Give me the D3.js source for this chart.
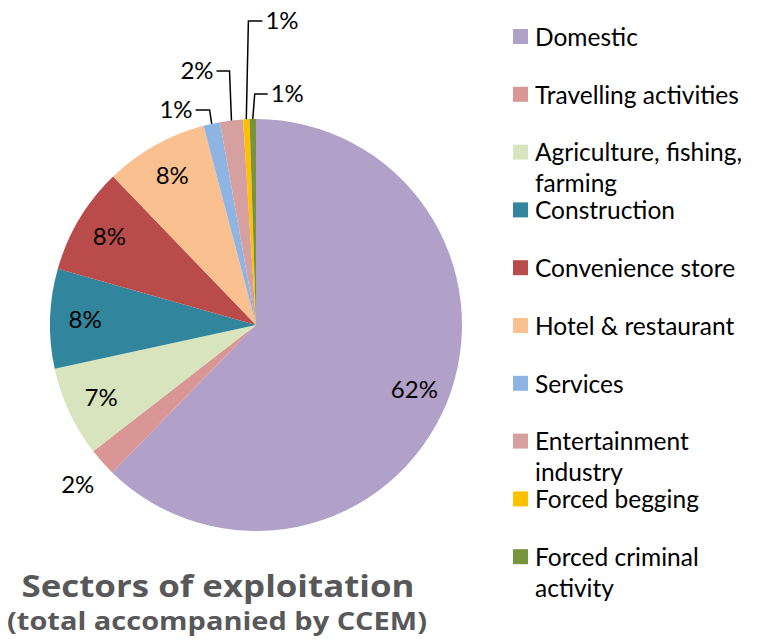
<!DOCTYPE html>
<html><head><meta charset="utf-8">
<script src="https://cdn.jsdelivr.net/npm/d3@7/dist/d3.min.js"></script>
<style>body{margin:0;background:#fff}svg{display:block}</style>
</head><body>
<script>
const categories = ["Domestic","Travelling activities","Agriculture, fishing, farming","Construction","Convenience store","Hotel & restaurant","Services","Entertainment industry","Forced begging","Forced criminal activity"];
const legendLines = [["Domestic"],["Travelling activities"],["Agriculture, fishing,","farming"],["Construction"],["Convenience store"],["Hotel & restaurant"],["Services"],["Entertainment","industry"],["Forced begging"],["Forced criminal","activity"]];
const values = [62.3, 2.2, 7.1, 7.8, 8.4, 8.1, 1.3, 1.8, 0.5, 0.5];
const colors = ["#b1a0c7","#d99694","#d7e4bd","#31859c","#b94c4a","#fac090","#8eb4e3","#d7a0a0","#ffc000","#77933c"];
// label placement kind: inner / outer / callout (rise above pie top, dx of horizontal arm)
const labelMode = ["inner","outer","inner","inner","inner","inner","callout","callout","callout","callout"];
const calloutRise = [0,0,0,0,0,0,9,48,98,25];
const calloutArm = [0,0,0,0,0,0,-14,-13,14,13];

const W=759,H=641;
const svg=d3.select("body").append("svg").attr("width",W).attr("height",H);
const cx=256, cy=325, r=206;
const g=svg.append("g").attr("transform",`translate(${cx},${cy})`);
const pie=d3.pie().sort(null).value(d=>d)(values);
const arc=d3.arc().innerRadius(0).outerRadius(r);
g.selectAll("path").data(pie).join("path").attr("d",arc).attr("fill",(d,i)=>colors[i]);

const font="Lato, 'Open Sans', sans-serif";
const inner=d3.arc().innerRadius(r*0.83).outerRadius(r*0.83);
const outer=d3.arc().innerRadius(r*1.16).outerRadius(r*1.16);
const pct=v=>Math.round(v)+"%";
const lblSize=24;
pie.forEach((d,i)=>{
  const mode=labelMode[i];
  if(mode==="inner"||mode==="outer"){
    const [x,y]=(mode==="inner"?inner:outer).centroid(d);
    g.append("text").attr("x",x).attr("y",y).attr("dy","0.35em").attr("text-anchor","middle")
     .attr("font-family",font).attr("font-size",lblSize).attr("fill","#000").text(pct(values[i]));
  } else {
    const a=(d.startAngle+d.endAngle)/2;
    const px=Math.sin(a)*r, py=-Math.cos(a)*r;
    const ey=-r-calloutRise[i];
    const ex=px+calloutArm[i]*0.15;
    const hx=ex+calloutArm[i];
    g.append("path").attr("d",`M${px},${py}L${ex},${ey}L${hx},${ey}`)
     .attr("fill","none").attr("stroke","#000").attr("stroke-width",1.5);
    const left=calloutArm[i]<0;
    g.append("text").attr("x",hx+(left?-3:3)).attr("y",ey).attr("dy","0.35em")
     .attr("text-anchor",left?"end":"start")
     .attr("font-family",font).attr("font-size",lblSize).attr("fill","#000").text(pct(values[i]));
  }
});

// legend
const lg=svg.append("g");
const step=57.8, y0=37;
legendLines.forEach((lines,i)=>{
  const y=y0+i*step;
  lg.append("rect").attr("x",513).attr("y",y-8).attr("width",15).attr("height",15).attr("fill",colors[i]);
  lines.forEach((t,j)=>{
    lg.append("text").attr("x",535).attr("y",y+j*31).attr("dy","0.36em")
      .attr("font-family",font).attr("font-size",24.5).attr("fill","#000").text(t);
  });
});

// title
svg.append("text").attr("x",218).attr("y",597).attr("text-anchor","middle")
  .attr("font-family","'Open Sans', Lato, sans-serif").attr("font-weight","bold").attr("font-size",30).attr("fill","#58585a")
  .attr("textLength",393).attr("lengthAdjust","spacingAndGlyphs")
  .text("Sectors of exploitation");
svg.append("text").attr("x",217).attr("y",630).attr("text-anchor","middle")
  .attr("font-family","'Open Sans', Lato, sans-serif").attr("font-weight","bold").attr("font-size",25).attr("fill","#58585a")
  .attr("textLength",420).attr("lengthAdjust","spacingAndGlyphs")
  .text("(total accompanied by CCEM)");
</script>
</body></html>
